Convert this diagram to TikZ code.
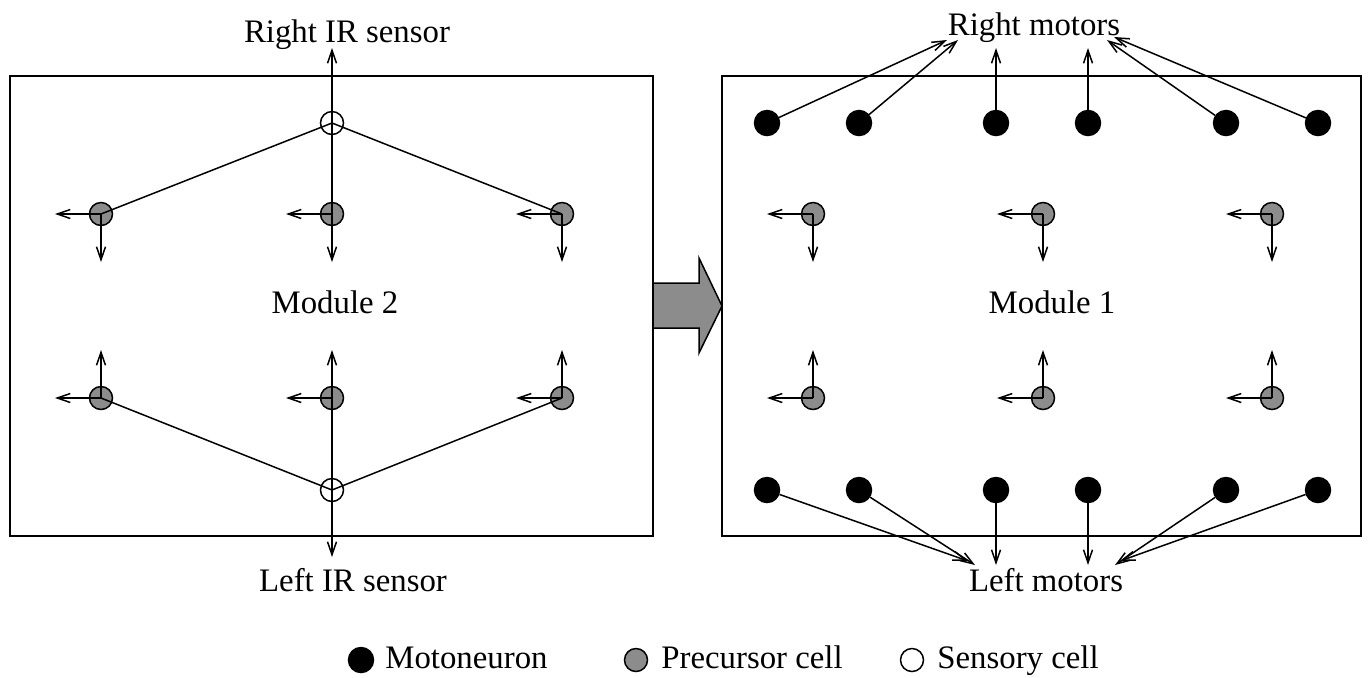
\documentclass[tikz,border=0pt]{standalone}
\usepackage{fontspec}
\setmainfont{Liberation Serif}
\usetikzlibrary{arrows.meta}
\definecolor{cellgray}{RGB}{140,140,140}
\begin{document}
\begin{tikzpicture}[x=0.5pt,y=-0.5pt,
  every node/.style={font=\fontsize{16.4}{20}\selectfont},
  wire/.style={line width=0.75pt},
  arr/.style={wire,-{Straight Barb[length=6.5pt,width=4.5pt]}},
  cellbase/.style={circle,draw,line width=0.75pt,inner sep=0pt},
  motocell/.style={cellbase,fill=black,minimum size=12.5pt},
  precell/.style={cellbase,fill=cellgray,minimum size=11.5pt},
  sensecell/.style={cellbase,fill=white,minimum size=11.5pt},
  lbl/.style={anchor=base,inner sep=0pt},
  legtext/.style={anchor=base west,inner sep=0pt},
  frame/.style={draw,line width=0.75pt}]
\useasboundingbox (0,0) rectangle (1369,677);

% module frames
\draw[frame] (10,76) rectangle (653,536);
\draw[frame] (722,76) rectangle (1361,536);

% big arrow between modules
\draw[wire,fill=cellgray] (653,283) -- (699,283) -- (699,258) -- (722,306)
  -- (699,353) -- (699,328) -- (653,328) -- cycle;

% labels
\node[lbl] (rir) at (347,42) {Right IR sensor};
\node[lbl] (lir) at (353,591) {Left IR sensor};
\node[lbl] (m2) at (335,313) {Module 2};
\node[lbl] (m1) at (1052,313) {Module 1};
\node[lbl] (rm) at (1034,35) {Right motors};
\node[lbl] (lm) at (1046,591) {Left motors};

% ---------- Module 2 ----------
\foreach \i/\x in {1/101,2/332,3/562} {
  \node[precell] (pu\i) at (\x,214) {};
  \node[precell] (pd\i) at (\x,398) {};
  \coordinate (pul\i) at (\x-46,214);
  \coordinate (pus\i) at (\x,262);
  \coordinate (pdl\i) at (\x-46,398);
  \coordinate (pdn\i) at (\x,350);
}
\node[sensecell] (sT) at (332,123) {};
\node[sensecell] (sB) at (332,490) {};
\coordinate (tT) at (332,48);
\coordinate (tB) at (332,557);

\foreach \i in {1,2,3} {
  \draw[wire] (sT.center) -- (pu\i.center);
  \draw[wire] (sB.center) -- (pd\i.center);
  \draw[arr] (pu\i.center) -- (pul\i);
  \draw[arr] (pu\i.center) -- (pus\i);
  \draw[arr] (pd\i.center) -- (pdl\i);
  \draw[arr] (pd\i.center) -- (pdn\i);
}
\draw[arr] (sT.center) -- (tT);
\draw[arr] (sB.center) -- (tB);

% ---------- Module 1 ----------
\foreach \i/\x in {1/813,2/1043,3/1272} {
  \node[precell] (qu\i) at (\x,214) {};
  \node[precell] (qd\i) at (\x,398) {};
  \coordinate (qul\i) at (\x-46,214);
  \coordinate (qus\i) at (\x,262);
  \coordinate (qdl\i) at (\x-46,398);
  \coordinate (qdn\i) at (\x,350);
  \draw[arr] (qu\i.center) -- (qul\i);
  \draw[arr] (qu\i.center) -- (qus\i);
  \draw[arr] (qd\i.center) -- (qdl\i);
  \draw[arr] (qd\i.center) -- (qdn\i);
}

\foreach \i/\x/\tx/\ty/\bx/\by in {
  1/767/947/40/968/561,
  2/859/958/40/975/565,
  3/996/996/48/996/565,
  4/1088/1088/48/1088/565,
  5/1226/1107/40/1115/565,
  6/1318/1114/37/1120/561} {
  \node[motocell] (mt\i) at (\x,123) {};
  \node[motocell] (mb\i) at (\x,490) {};
  \coordinate (rt\i) at (\tx,\ty);
  \coordinate (lt\i) at (\bx,\by);
  \draw[arr] (mt\i) -- (rt\i);
  \draw[arr] (mb\i) -- (lt\i);
}

% ---------- legend ----------
\node[motocell] (kM) at (361,660) {};
\node[legtext] (kMt) at (385,668) {Motoneuron};
\node[precell] (kP) at (636,660) {};
\node[legtext] (kPt) at (661,668) {Precursor cell};
\node[sensecell] (kS) at (912,660) {};
\node[legtext] (kSt) at (937,668) {Sensory cell};
\end{tikzpicture}
\end{document}
